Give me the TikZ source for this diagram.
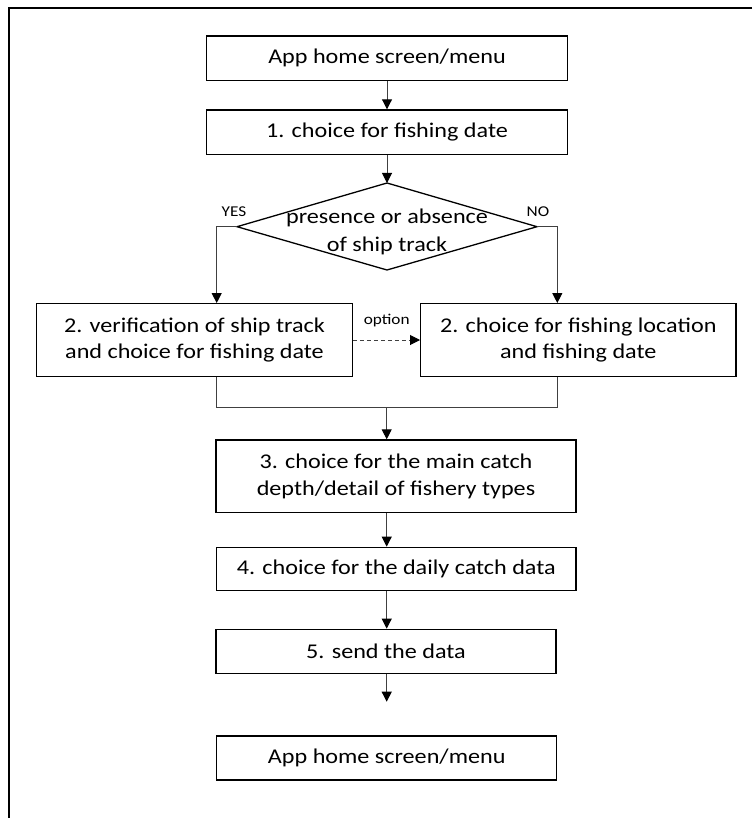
\documentclass[tikz,border=0pt]{standalone}
\usepackage{fontspec}
\setmainfont[FakeStretch=1.15]{Carlito}
\usetikzlibrary{arrows.meta}
\begin{document}
\begin{tikzpicture}[x=1pt,y=-1pt,
  box/.style={draw=black, line width=1.3pt, inner sep=0pt, align=center,
    font=\fontsize{21}{26.5}\selectfont},
  conn/.style={draw=black!75, line width=1pt},
  arr/.style={conn, -{Triangle[length=10pt,width=10pt,fill=black,color=black]}},
  dasharr/.style={conn, dash pattern=on 4pt off 3pt, -{Triangle[length=10pt,width=10pt,fill=black,color=black]}},
  lbl/.style={font=\fontsize{15}{18}\selectfont, inner sep=0pt},
]
\useasboundingbox (0,0) rectangle (752,818);
% outer frame (top and left edges)
\draw[line width=2pt] (752,8) -- (9,8) -- (9,818);

% boxes
\node[box, minimum width=361pt, minimum height=44.7pt] (home) at (387,58.3) {App home screen/menu};
\node[box, minimum width=361pt, minimum height=44.7pt] (s1) at (387,132.3) {1. choice for fishing date};

% decision diamond
\coordinate (dt) at (387,183);
\coordinate (dr) at (537,226.7);
\coordinate (db) at (387,270);
\coordinate (dl) at (237,226.7);
\draw[line width=1.3pt, line join=miter] (dt) -- (dr) -- (db) -- (dl) -- cycle;
\node[align=center, inner sep=0pt, font=\fontsize{21}{28}\selectfont] (dq) at (387,232) {presence or absence\\of ship track};

\node[box, minimum width=315.6pt, minimum height=72.6pt] (v2a) at (194.5,340) {2. verification of ship track\\and choice for fishing date};
\node[box, minimum width=315.3pt, minimum height=72.6pt] (v2b) at (578.3,340) {2. choice for fishing location\\and fishing date};

\node[box, minimum width=360pt, minimum height=72.7pt] (s3) at (396,476.3) {3. choice for the main catch\\depth/detail of fishery types};
\node[box, minimum width=359.3pt, minimum height=43.4pt] (s4) at (396.3,569) {4. choice for the daily catch data};
\node[box, minimum width=340pt, minimum height=44pt] (s5) at (386,651.3) {5. send the data};
\node[box, minimum width=340pt, minimum height=44pt] (home2) at (386.7,758) {App home screen/menu};

% helper coordinates
\coordinate (ya) at (216.7,0);
\coordinate (yb) at (557.3,0);
\coordinate (m) at (386.7,407.3);
\coordinate (free) at (386.7,701.7);

% labels
\node[lbl] (yes) at (234,212) {YES};
\node[lbl] (no) at (538,212) {NO};
\node[lbl] (opt) at (386.7,321) {option};

% connectors
\draw[arr] (home.south) -- (s1.north);
\draw[arr] (s1.south) -- (dt);
\draw[arr] (dl) -| (ya |- v2a.north);
\draw[arr] (dr) -| (yb |- v2b.north);
\draw[dasharr] (v2a.east) -- (v2b.west);
\draw[conn] (ya |- v2a.south) |- (m);
\draw[conn] (yb |- v2b.south) |- (m);
\draw[arr] (m) -- (m |- s3.north);
\draw[arr] (m |- s3.south) -- (m |- s4.north);
\draw[arr] (m |- s4.south) -- (m |- s5.north);
\draw[arr] (m |- s5.south) -- (free);
\end{tikzpicture}
\end{document}
